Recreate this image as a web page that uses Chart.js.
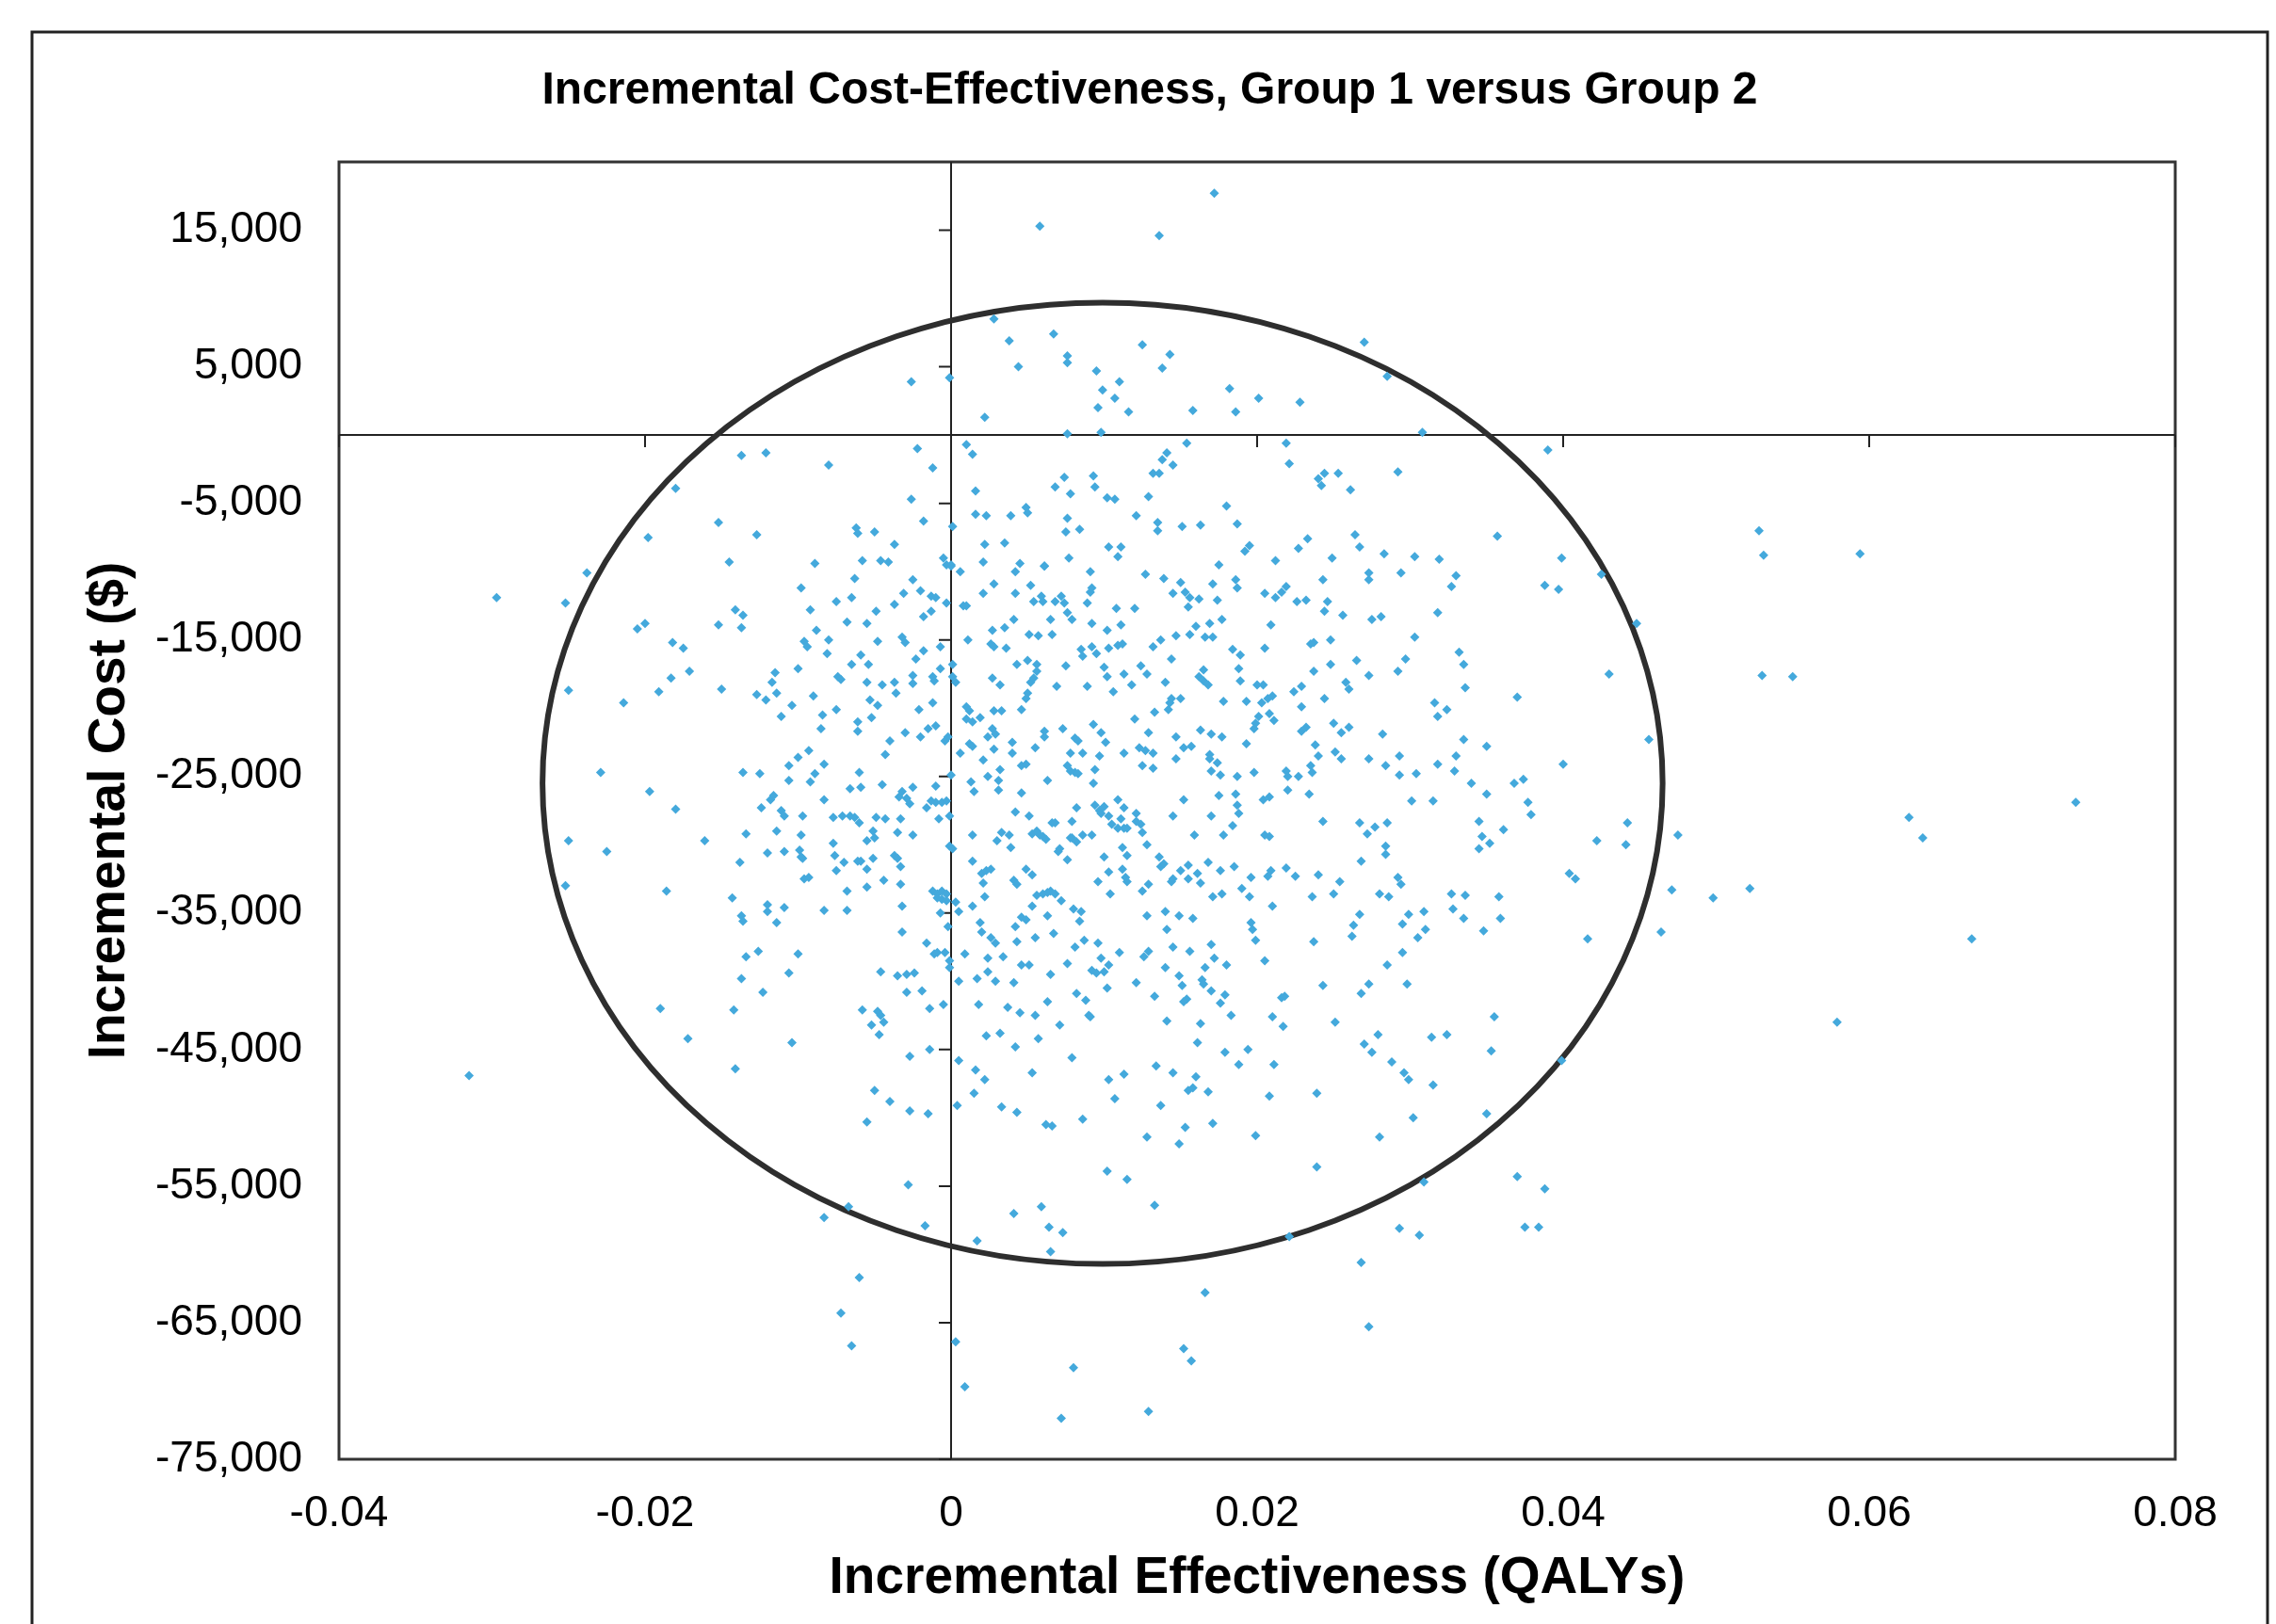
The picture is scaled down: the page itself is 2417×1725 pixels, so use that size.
<!DOCTYPE html>
<html>
<head>
<meta charset="utf-8">
<script src="https://cdn.jsdelivr.net/npm/chart.js@4.4.1/dist/chart.umd.min.js"></script>
<style>
  html, body { margin: 0; padding: 0; background: #fff; }
  canvas { display: block; }
</style>
</head>
<body>
<canvas id="icer" width="2417" height="1725"></canvas>
<script>
// bootstrap replicates [incremental effectiveness (QALYs), incremental cost ($)]
const repsTop = [
  [-0.0137,-1500],[-0.0121,-1300],[-0.0180,-3900],[-0.0152,-6400],[-0.0198,-7500],[-0.0127,-7300],[-0.0145,-9300],[-0.0238,-10100],
  [0.0172,17700],[0.0058,15300],[0.0136,14600],[0.0028,8500],[0.0067,7400],[0.0038,6900],[0.0125,6600],[0.0076,5800],[0.0076,5300],
  [0.0143,5900],[0.0044,5000],[-0.0026,3900],[-0.0001,4200],[0.0095,4700],[0.0138,4900],[0.0110,3900],[0.0099,3300],[0.0107,2700],
  [0.0182,3400],[0.0201,2700],[0.0096,2000],[0.0116,1700],[0.0158,1800],[0.0186,1700],[0.0022,1300],[0.0076,100],[0.0098,200],
  [0.0010,-700],[0.0014,-1400],[-0.0022,-1000],[-0.0080,-2200],[-0.0012,-2400],[0.0154,-600],[0.0141,-1300],[0.0138,-1800],
  [0.0145,-2200],[0.0132,-2800],[0.0136,-2800],[0.0074,-3100],[0.0093,-3000],[0.0094,-3800],[0.0068,-3800],[0.0078,-4300],
  [0.0016,-4100],[-0.0026,-4700],[0.0102,-4600],[0.0107,-4700],[0.0129,-4500],[0.0180,-5200],[0.0049,-5300],[0.0050,-5700],
  [0.0016,-5800],[0.0023,-5900],[0.0039,-5900],[0.0121,-5900],[0.0076,-6100],[-0.0018,-6300],[0.0001,-6700],[0.0135,-6400],
  [0.0135,-7000],[0.0151,-6700],[0.0163,-6600],[0.0187,-6500],[-0.0062,-6800],[-0.0061,-7200],[-0.0050,-7100],[0.0075,-7100],
  [0.0084,-6900],[-0.0037,-8000],[0.0022,-8000],[0.0035,-7900],[0.0103,-8200],[0.0111,-8200],[0.0109,-8900],[0.0195,-8100],
  [0.0192,-8500],[-0.0089,-9400],[-0.0058,-9200],[-0.0046,-9200],[-0.0041,-9300],[-0.0005,-9000],[-0.0003,-9500],[0.0000,-9500],
  [0.0021,-9300],[0.0045,-9400],[0.0061,-9600],[0.0077,-9000],[0.0175,-9500],
  [0.0270,6800],[0.0285,4300],[0.0228,2400],[0.0308,200],[0.0219,-600],[0.0221,-2100],[0.0390,-1100],[0.0240,-3200],[0.0244,-2800],
  [0.0253,-2800],[0.0242,-3700],[0.0261,-4000],[0.0292,-2700],[0.0357,-7400],[0.0399,-9000],[0.0264,-7300],[0.0233,-7600],
  [0.0227,-8300],[0.0267,-8200],[0.0212,-9200],[0.0249,-9000],[0.0283,-8700],[0.0303,-8900],[0.0319,-9100],
  [0.0528,-7000],[0.0531,-8800],[0.0594,-8700]
];

const repsMid = [
  [-0.0297,-11900],[-0.0252,-12300],[-0.0205,-14200],[-0.0200,-13800],[-0.0152,-13900],[-0.0141,-12800],[-0.0136,-13200],
  [-0.0137,-14100],[-0.0182,-15200],[-0.0175,-15600],[-0.0171,-17300],[-0.0183,-17800],[-0.0191,-18800],[-0.0150,-18600],
  [-0.0214,-19600],[-0.0250,-18700],[-0.0115,-17400],[-0.0117,-18100],[-0.0127,-19000],[-0.0121,-19400],[-0.0114,-18900],
  [-0.0104,-19800],[-0.0111,-20600],[-0.0106,-24200],[-0.0106,-25300],[-0.0136,-24700],[-0.0125,-24800],[-0.0229,-24700],
  [-0.0197,-26100],[-0.0180,-27400],[-0.0118,-26700],[-0.0116,-26400],[-0.0124,-27300],[-0.0111,-27500],[-0.0109,-27900],
  [-0.0114,-29000],[-0.0134,-29200],[-0.0161,-29700],[-0.0250,-29700],[-0.0225,-30500],[-0.0120,-30600],[-0.0109,-30500],
  [-0.0138,-31300],[-0.0252,-33000],[-0.0186,-33400],[-0.0143,-33900],[-0.0120,-34400],[-0.0120,-34900],[-0.0109,-34600],
  [-0.0137,-35200],[-0.0136,-35600],[-0.0114,-35700],[-0.0126,-37800],[-0.0134,-38200],[-0.0137,-39800],[-0.0106,-39400],
  [-0.0098,-11200],[-0.0063,-10500],[-0.0025,-10600],[-0.0020,-11400],[-0.0013,-11800],[-0.0010,-11900],[-0.0003,-12300],
  [0.0000,-9600],[0.0006,-10000],[0.0008,-12500],[0.0010,-12500],[-0.0092,-12800],[-0.0075,-12200],[-0.0065,-11900],
  [-0.0049,-12900],[-0.0037,-12400],[-0.0031,-11600],[0.0021,-11600],[0.0028,-10900],[0.0042,-11600],[0.0042,-10000],
  [0.0052,-11000],[0.0061,-9600],[0.0054,-12200],[0.0059,-11800],[0.0060,-12200],[0.0068,-12200],[0.0072,-11800],
  [0.0074,-12300],[0.0091,-10000],[0.0092,-11200],[0.0091,-11500],[0.0089,-12300],[0.0108,-12700],[0.0120,-12700],
  [0.0127,-10200],[0.0139,-10500],[0.0150,-10800],[0.0153,-11500],[0.0156,-11900],[0.0155,-12600],[0.0162,-12000],
  [0.0145,-11600],[0.0171,-10900],[0.0174,-12100],[0.0186,-10600],[0.0187,-11200],
  [-0.0096,-15100],[-0.0094,-15500],[-0.0088,-14300],[-0.0080,-15000],[-0.0081,-16000],[-0.0068,-13700],[-0.0055,-13800],
  [-0.0048,-15100],[-0.0032,-14800],[-0.0030,-15200],[-0.0018,-13300],[-0.0013,-12900],[-0.0007,-15500],[0.0027,-14300],
  [0.0035,-14100],[0.0041,-13500],[0.0011,-15000],[0.0026,-15300],[0.0028,-15500],[0.0036,-15600],[0.0076,-13000],
  [0.0079,-13500],[0.0065,-13500],[0.0051,-14600],[0.0057,-14700],[0.0066,-14600],[0.0092,-13800],[0.0102,-14300],
  [0.0111,-13900],[0.0177,-13500],[0.0169,-13800],[0.0160,-14000],[0.0147,-14700],[0.0156,-14600],[0.0166,-14800],
  [0.0171,-14800],[0.0137,-15000],[0.0132,-15500],[0.0144,-16400],[0.0103,-15600],[0.0109,-15400],[0.0112,-15300],
  [0.0092,-15500],[0.0095,-16000],[0.0085,-15700],[0.0086,-16200],[0.0184,-15700],[0.0189,-16100],
  [-0.0100,-17100],[-0.0065,-16800],[-0.0059,-16100],[-0.0054,-16800],[-0.0074,-17700],[-0.0072,-17900],[-0.0055,-18100],
  [-0.0045,-18300],[-0.0037,-18100],[-0.0036,-18900],[-0.0025,-17600],[-0.0025,-18200],[-0.0023,-16400],[-0.0018,-15800],
  [-0.0012,-17700],[-0.0011,-18000],[-0.0007,-17100],[0.0001,-16800],[0.0001,-17700],[0.0003,-18100],[0.0027,-17800],
  [0.0032,-18300],[0.0043,-16800],[0.0050,-16500],[0.0056,-16800],[0.0056,-17300],[0.0052,-18100],[0.0054,-17800],
  [0.0069,-18400],[0.0075,-16900],[0.0089,-18400],[0.0100,-17000],[0.0102,-17700],[0.0113,-17500],[0.0118,-18300],
  [0.0106,-18800],[0.0124,-16900],[0.0128,-17500],[0.0140,-18100],[0.0162,-17700],[0.0165,-18000],[0.0168,-18300],
  [0.0165,-17200],[0.0189,-18000],[0.0188,-17100],[0.0200,-18300],
  [-0.0090,-19100],[-0.0084,-20500],[-0.0085,-21500],[-0.0075,-20100],[-0.0061,-21000],[-0.0061,-21700],[-0.0053,-19400],
  [-0.0048,-19800],[-0.0052,-20700],[-0.0012,-19600],[-0.0021,-20100],[-0.0030,-21800],[-0.0020,-22100],[-0.0015,-21500],
  [-0.0010,-21300],[0.0010,-19900],[0.0012,-20200],[0.0010,-20800],[0.0014,-21000],[0.0019,-20700],[0.0028,-20200],
  [0.0033,-20200],[0.0046,-20100],[0.0049,-19300],[0.0050,-18900],[0.0120,-20800],[0.0133,-20300],[0.0143,-19600],
  [0.0142,-20100],[0.0150,-19300],[0.0144,-19300],[0.0178,-19500],[0.0193,-19500],[0.0201,-20600],[0.0199,-21100],
  [0.0198,-21500],
  [-0.0100,-23600],[-0.0093,-23100],[-0.0083,-24100],[-0.0043,-23400],[-0.0040,-22400],[-0.0004,-22400],[-0.0002,-22100],
  [0.0006,-23300],[0.0012,-22600],[0.0014,-22800],[0.0021,-23800],[0.0024,-22100],[0.0027,-21500],[0.0029,-21900],
  [0.0032,-24500],[0.0028,-23000],[0.0040,-22500],[0.0040,-23300],[0.0046,-24200],[0.0049,-24100],[0.0055,-22900],
  [0.0061,-21700],[0.0061,-22100],[0.0073,-21500],[0.0078,-23300],[0.0076,-24200],[0.0078,-24600],[0.0081,-24700],
  [0.0083,-24800],[0.0081,-22200],[0.0083,-22400],[0.0086,-23300],[0.0093,-21200],[0.0098,-21800],[0.0097,-23500],
  [0.0101,-22500],[0.0094,-24500],[0.0113,-23300],[0.0123,-22900],[0.0127,-23100],[0.0132,-23300],[0.0125,-24200],
  [0.0132,-24400],[0.0129,-21800],[0.0147,-22100],[0.0147,-23700],[0.0152,-22900],[0.0157,-22800],[0.0163,-21600],
  [0.0170,-21900],[0.0177,-22100],[0.0169,-23400],[0.0169,-23700],[0.0174,-24000],[0.0170,-24600],[0.0176,-24900],
  [0.0193,-22600],[0.0198,-24700],
  [-0.0092,-25400],[-0.0089,-24800],[-0.0083,-26700],[-0.0066,-25900],[-0.0059,-25800],[-0.0060,-24700],[-0.0045,-25600],
  [-0.0034,-26500],[-0.0032,-26100],[-0.0029,-26600],[-0.0027,-27000],[-0.0025,-25800],[-0.0016,-27300],[-0.0013,-26800],
  [-0.0010,-26900],[-0.0006,-26900],[-0.0003,-26800],[-0.0010,-25700],[0.0000,-24900],[-0.0001,-27900],[0.0013,-25400],
  [0.0015,-26100],[0.0024,-25000],[0.0031,-25300],[0.0031,-26000],[0.0046,-26200],[0.0063,-25300],[0.0082,-27300],
  [0.0093,-25500],[0.0094,-27100],[0.0097,-27500],[0.0100,-27200],[0.0098,-27700],[0.0109,-26700],[0.0113,-27300],
  [0.0152,-26700],[0.0175,-26400],[0.0186,-26300],[0.0187,-27100],[0.0188,-27700],[0.0187,-25000],[0.0145,-27900],
  [0.0170,-27900],[0.0103,-27900],[0.0105,-28500],[0.0111,-28100],[0.0113,-28800],[0.0121,-28300],[0.0124,-28500],
  [0.0125,-29100],[0.0121,-27700],
  [-0.0097,-27900],[-0.0098,-29300],[-0.0077,-28000],[-0.0071,-27900],[-0.0066,-27900],[-0.0063,-28000],[-0.0060,-28400],
  [-0.0049,-28000],[-0.0043,-28100],[-0.0033,-28100],[-0.0035,-29100],[-0.0051,-29000],[-0.0055,-29700],[-0.0050,-29500],
  [-0.0025,-29300],[-0.0008,-28100],[-0.0001,-30100],[0.0001,-30300],[0.0014,-29300],[0.0030,-29700],[0.0033,-29100],
  [0.0038,-29300],[0.0039,-30200],[0.0042,-27600],[0.0051,-27900],[0.0053,-29200],[0.0056,-29000],[0.0058,-29300],
  [0.0060,-29400],[0.0062,-29600],[0.0066,-28400],[0.0068,-28400],[0.0071,-30300],[0.0078,-29500],[0.0079,-28300],
  [0.0079,-29500],[0.0082,-29800],[0.0086,-29300],[0.0092,-29300],[0.0100,-30900],[0.0109,-28800],[0.0112,-30200],
  [0.0115,-28800],[0.0128,-30000],[0.0159,-29300],[0.0178,-29300],[0.0184,-28600],
  [-0.0099,-30400],[-0.0098,-30900],[-0.0097,-31000],[-0.0077,-29900],[-0.0076,-30800],[-0.0075,-31900],[-0.0070,-31300],
  [-0.0061,-31200],[-0.0059,-31200],[-0.0055,-31800],[-0.0051,-31000],[-0.0037,-30800],[-0.0035,-31000],[-0.0033,-31600],
  [-0.0096,-32500],[-0.0093,-32400],[-0.0044,-32600],[0.0014,-31200],[0.0020,-32100],[0.0023,-31900],[0.0026,-31800],
  [0.0041,-32600],[0.0043,-32900],[0.0049,-31800],[0.0053,-32200],[0.0070,-30500],[0.0076,-31100],[0.0103,-32000],
  [0.0112,-31800],[0.0115,-30800],[0.0114,-32400],[0.0136,-30900],[0.0137,-31600],[0.0139,-31400],[0.0145,-32500],
  [0.0150,-31900],[0.0155,-31500],[0.0161,-32100],[0.0168,-31300],[0.0176,-31900],[0.0185,-31600],[0.0196,-32400],
  [-0.0068,-33400],[-0.0055,-33100],[-0.0033,-32900],[-0.0012,-33400],[-0.0009,-33600],[-0.0006,-33400],[-0.0003,-33600],
  [-0.0009,-33900],[-0.0006,-34000],[-0.0003,-34100],[0.0003,-34200],[0.0021,-32800],[0.0022,-33800],[0.0056,-33700],
  [0.0060,-33600],[0.0063,-33500],[0.0065,-33400],[0.0068,-33600],[0.0072,-34100],[0.0096,-32700],[0.0104,-33600],
  [0.0115,-32700],[0.0125,-33400],[0.0129,-32900],[0.0144,-32700],[0.0155,-32500],[0.0163,-32800],[0.0171,-33800],
  [0.0177,-33600],[0.0190,-33200],[0.0195,-33800],[-0.0083,-34800],[-0.0068,-34800],[-0.0032,-34500],[-0.0007,-35000],
  [-0.0002,-36000],[0.0005,-34900],[0.0014,-34500],[0.0019,-35700],[0.0042,-36000],[0.0046,-35300],[0.0049,-35500],
  [0.0053,-34500],[0.0063,-35200],[0.0080,-34700],[0.0085,-34900],[0.0084,-35600],[0.0128,-35200],[0.0140,-34900],
  [0.0149,-35200],[0.0158,-35400],[0.0196,-35700],[0.0197,-36200],[0.0199,-37000],
  [-0.0032,-36400],[-0.0016,-37200],[-0.0011,-38000],[-0.0009,-37900],[-0.0004,-37900],[-0.0001,-38500],[-0.0001,-39000],
  [0.0009,-38000],[0.0020,-36400],[0.0024,-38300],[0.0026,-36800],[0.0029,-37200],[0.0034,-38200],[0.0043,-37100],
  [0.0055,-36800],[0.0067,-36500],[0.0081,-37500],[0.0087,-37000],[0.0096,-37200],[0.0110,-37900],[0.0126,-38200],
  [0.0129,-37800],[0.0141,-36200],[0.0145,-37500],[0.0156,-37800],[0.0170,-37300],[0.0172,-38300],[0.0180,-38800],
  [0.0166,-39000],[0.0098,-38300],[0.0103,-38800],[0.0100,-39300],[0.0095,-39400],[0.0092,-39200],[0.0076,-38700],
  [0.0065,-39500],[0.0046,-38800],[0.0051,-38800],[0.0024,-39300],[0.0017,-39800],[0.0029,-40000],[0.0041,-40100],
  [-0.0100,-38000],[-0.0046,-39300],[-0.0035,-39600],[-0.0029,-39500],[-0.0024,-39400],[0.0140,-39000],[0.0149,-39600],
  [0.0164,-39900],[0.0121,-40100],
  [0.0205,-11600],[0.0212,-11900],[0.0216,-11500],[0.0219,-11100],[0.0226,-12200],[0.0232,-12100],[0.0243,-10600],
  [0.0246,-12200],[0.0244,-12900],[0.0273,-10100],[0.0273,-10600],[0.0294,-10100],[0.0330,-10300],[0.0327,-11100],
  [0.0388,-11000],[0.0397,-11300],[0.0425,-10200],[0.0209,-13900],[0.0256,-13200],[0.0275,-13500],[0.0281,-13300],
  [0.0318,-13000],[0.0448,-13800],[0.0205,-15600],[0.0235,-15300],[0.0237,-15200],[0.0248,-15000],[0.0303,-14800],
  [0.0297,-16400],[0.0292,-17300],[0.0332,-15900],[0.0335,-16800],[0.0336,-18500],[0.0430,-17500],[0.0237,-17300],
  [0.0248,-16800],[0.0265,-16500],[0.0273,-17600],[0.0204,-18300],[0.0203,-19600],[0.0207,-19300],[0.0210,-19100],
  [0.0224,-18800],[0.0229,-18400],[0.0244,-19300],[0.0229,-19900],[0.0258,-18100],[0.0260,-18600],[0.0208,-20400],
  [0.0211,-20900],[0.0316,-19600],[0.0324,-20100],[0.0318,-20600],[0.0370,-19200],[0.0229,-21700],[0.0232,-21400],
  [0.0250,-21100],[0.0255,-21800],[0.0260,-21400],[0.0282,-21900],[0.0238,-22700],[0.0240,-23500],[0.0251,-23200],
  [0.0255,-23700],[0.0273,-23700],[0.0293,-23500],[0.0284,-24200],[0.0335,-22300],[0.0350,-22800],[0.0330,-23500],
  [0.0329,-24600],[0.0318,-24100],[0.0456,-22300],[0.0400,-24100],[0.0219,-24600],[0.0220,-25000],[0.0227,-25000],
  [0.0235,-24200],[0.0236,-24700],[0.0220,-26000],[0.0234,-26300],[0.0204,-26700],[0.0208,-26500],[0.0293,-24900],
  [0.0304,-24800],[0.0301,-26800],[0.0315,-26800],[0.0340,-25500],[0.0350,-26300],[0.0368,-25500],[0.0374,-25200],
  [0.0377,-26900],[0.0379,-27800],[0.0243,-28300],[0.0267,-28400],[0.0277,-28700],[0.0272,-29200],[0.0285,-28400],
  [0.0284,-30100],[0.0284,-30700],[0.0205,-29300],[0.0208,-29400],[0.0268,-31200],[0.0345,-28300],[0.0347,-29400],
  [0.0345,-30300],[0.0352,-29900],[0.0361,-28900],[0.0422,-29700],[0.0442,-28400],[0.0441,-30000],[0.0475,-29300],
  [0.0219,-31700],[0.0225,-32300],[0.0207,-32300],[0.0209,-31900],[0.0240,-32200],[0.0254,-32700],[0.0236,-33800],
  [0.0250,-33600],[0.0210,-34500],[0.0280,-33600],[0.0286,-33800],[0.0292,-32400],[0.0294,-32900],[0.0327,-33600],
  [0.0336,-33700],[0.0328,-34700],[0.0335,-35400],[0.0358,-33800],[0.0359,-35400],[0.0348,-36300],[0.0404,-32100],
  [0.0408,-32500],[0.0471,-33300],[0.0464,-36400],[0.0416,-36900],[0.0267,-35100],[0.0263,-35900],[0.0262,-36700],
  [0.0299,-35100],[0.0309,-34900],[0.0295,-35800],[0.0310,-36200],[0.0305,-36800],[0.0237,-37100],[0.0205,-38500],
  [0.0295,-37900],[0.0285,-38800],
  [0.0530,-17600],[0.0550,-17700],[0.0626,-28000],[0.0635,-29500],[0.0735,-26900],[0.0522,-33200],[0.0498,-33900],
  [0.0667,-36900]
];

const repsLow = [
  [-0.0315,-46900],[-0.0190,-42000],[-0.0142,-42100],[-0.0123,-40800],[-0.0172,-44200],[-0.0104,-44500],[-0.0141,-46400],
  [0.0005,-40000],[0.0151,-40300],[0.0165,-40200],[-0.0029,-40800],[-0.0019,-40700],[-0.0005,-41700],[-0.0014,-42000],
  [-0.0058,-42100],[-0.0048,-42200],[-0.0046,-42500],[-0.0044,-43000],[-0.0052,-43200],[-0.0047,-43900],[-0.0014,-45000],
  [-0.0027,-45500],[-0.0050,-48000],[-0.0040,-48800],[-0.0027,-49500],[-0.0015,-49700],[-0.0055,-50300],[0.0018,-41700],
  [0.0037,-41900],[0.0045,-42300],[0.0055,-42500],[0.0063,-41500],[0.0071,-43200],[0.0082,-40900],[0.0088,-41400],
  [0.0090,-42500],[0.0091,-42600],[0.0102,-40500],[0.0133,-41100],[0.0141,-42900],[0.0152,-41500],[0.0154,-41300],
  [0.0163,-43100],[0.0170,-40700],[0.0176,-41600],[0.0179,-41000],[0.0183,-42500],[0.0023,-44000],[0.0032,-43800],
  [0.0042,-44800],[0.0057,-44200],[0.0005,-45800],[0.0016,-46500],[0.0022,-47200],[0.0015,-48200],[0.0004,-49100],
  [0.0053,-46700],[0.0033,-49200],[0.0043,-49600],[0.0062,-50500],[0.0066,-50600],[0.0079,-45600],[0.0086,-50100],
  [0.0103,-47200],[0.0113,-46800],[0.0107,-48600],[0.0134,-46200],[0.0145,-46700],[0.0161,-44500],[0.0179,-45200],
  [0.0194,-45000],[0.0188,-46100],[0.0160,-47000],[0.0155,-48000],[0.0158,-47800],[0.0168,-48100],[0.0137,-49100],
  [0.0153,-50700],[0.0171,-50400],[0.0128,-51400],[0.0149,-51900],[0.0199,-51300],[0.0102,-53900],[0.0115,-54500],
  [0.0133,-56400],[-0.0028,-54900],[-0.0067,-56500],[-0.0083,-57300],[-0.0017,-57900],[0.0017,-59000],[0.0041,-57000],
  [0.0059,-56500],[0.0064,-58000],[0.0073,-58400],[0.0065,-59800],[-0.0060,-61700],[-0.0072,-64300],[-0.0065,-66700],
  [0.0003,-66400],[0.0009,-69700],[0.0080,-68300],[0.0072,-72000],[0.0129,-71500],[0.0152,-66900],[0.0157,-67800],
  [0.0166,-62800],
  [0.0243,-40300],[0.0273,-40200],[0.0298,-40200],[0.0216,-41200],[0.0218,-41100],[0.0268,-40900],[0.0210,-42600],
  [0.0217,-43300],[0.0251,-43000],[0.0355,-42600],[0.0279,-43900],[0.0270,-44600],[0.0275,-45200],[0.0314,-44100],
  [0.0324,-43900],[0.0353,-45100],[0.0211,-46100],[0.0288,-45900],[0.0296,-46700],[0.0299,-47200],[0.0315,-47600],
  [0.0399,-45800],[0.0208,-48400],[0.0239,-48200],[0.0302,-50000],[0.0350,-49700],[0.0280,-51400],[0.0239,-53600],
  [0.0309,-54700],[0.0370,-54300],[0.0388,-55200],[0.0293,-58100],[0.0306,-58600],[0.0375,-58000],[0.0384,-58000],
  [0.0221,-58700],[0.0268,-60600],[0.0273,-65300],
  [0.0579,-43000]
];

// confidence ellipse: centre and half-axes [effect, cost]
const ellipseCentre = [0.0099, -25500];
const ellipseRadii = [0.0366, 35200];

const xTicks = [-0.04, -0.02, 0, 0.02, 0.04, 0.06, 0.08];
const yTicks = [-75000, -65000, -55000, -45000, -35000, -25000, -15000, -5000, 5000, 15000];

const chartTitle = 'Incremental Cost-Effectiveness, Group 1 versus Group 2';
const FONT = '"Liberation Sans", Arial, sans-serif';

const allReps = repsTop.concat(repsMid, repsLow).map(p => ({ x: p[0], y: p[1] }));

// outer frame of the figure, title centred on it
const frame = {
  id: 'frame',
  beforeDraw(chart) {
    const c = chart.ctx;
    c.save();
    c.fillStyle = '#fff';
    c.fillRect(0, 0, chart.width, chart.height);
    c.strokeStyle = '#222';
    c.lineWidth = 3;
    c.strokeRect(34, 34, 2374, 1720);
    c.restore();
  },
  afterDraw(chart) {
    const c = chart.ctx;
    c.save();
    c.fillStyle = '#000';
    c.font = 'bold 48px ' + FONT;
    c.textAlign = 'center';
    c.textBaseline = 'middle';
    c.fillText(chartTitle, 1221, 97);
    c.restore();
  }
};

// plot border, axes crossing at the origin with their tick marks, and the ellipse
const crossAxes = {
  id: 'crossAxes',
  beforeDatasetsDraw(chart) {
    const c = chart.ctx;
    const a = chart.chartArea;
    const xs = chart.scales.x, ys = chart.scales.y;
    const x0 = xs.getPixelForValue(0), y0 = ys.getPixelForValue(0);
    c.save();
    c.strokeStyle = '#333';
    c.lineWidth = 3;
    c.strokeRect(a.left, a.top, a.right - a.left, a.bottom - a.top);

    c.strokeStyle = '#222';
    c.lineWidth = 2;
    c.beginPath();
    c.moveTo(a.left, y0); c.lineTo(a.right, y0);
    c.moveTo(x0, a.top); c.lineTo(x0, a.bottom);
    xTicks.forEach(v => {
      const px = xs.getPixelForValue(v);
      c.moveTo(px, y0); c.lineTo(px, y0 + 13);
    });
    yTicks.forEach(v => {
      const py = ys.getPixelForValue(v);
      c.moveTo(x0 - 13, py); c.lineTo(x0, py);
    });
    c.stroke();

    const cx = xs.getPixelForValue(ellipseCentre[0]);
    const cy = ys.getPixelForValue(ellipseCentre[1]);
    const rx = Math.abs(xs.getPixelForValue(ellipseCentre[0] + ellipseRadii[0]) - cx);
    const ry = Math.abs(ys.getPixelForValue(ellipseCentre[1] + ellipseRadii[1]) - cy);
    c.strokeStyle = '#2e2e2e';
    c.lineWidth = 6;
    c.beginPath();
    c.ellipse(cx, cy, rx, ry, 0, 0, Math.PI * 2);
    c.stroke();
    c.restore();
  }
};

new Chart(document.getElementById('icer'), {
  type: 'scatter',
  data: {
    datasets: [{
      label: 'Replicates',
      data: allReps,
      pointStyle: 'rectRot',
      pointRadius: 5,
      pointBorderWidth: 0,
      backgroundColor: '#44a9dc',
      borderColor: '#44a9dc'
    }]
  },
  options: {
    responsive: false,
    animation: false,
    devicePixelRatio: 1,
    layout: { padding: { left: 0, right: 107, top: 172, bottom: 0 } },
    plugins: {
      legend: { display: false },
      tooltip: { enabled: false },
      title: { display: false }
    },
    scales: {
      x: {
        type: 'linear',
        min: -0.04,
        max: 0.08,
        grid: { display: false, drawTicks: false },
        border: { display: false },
        afterBuildTicks: s => { s.ticks = xTicks.map(v => ({ value: v })); },
        afterFit: s => { s.height = 175; },
        ticks: {
          color: '#000',
          font: { family: FONT, size: 46 },
          padding: 31,
          maxRotation: 0,
          autoSkip: false,
          callback: v => String(v)
        },
        title: {
          display: true,
          text: 'Incremental Effectiveness (QALYs)',
          color: '#000',
          font: { family: FONT, size: 55, weight: 'bold' },
          padding: { top: 0, bottom: 15 }
        }
      },
      y: {
        type: 'linear',
        min: -75000,
        max: 20000,
        grid: { display: false, drawTicks: false },
        border: { display: false },
        afterBuildTicks: s => { s.ticks = yTicks.map(v => ({ value: v })); },
        afterFit: s => { s.width = 360; },
        ticks: {
          color: '#000',
          font: { family: FONT, size: 46 },
          padding: 39,
          autoSkip: false,
          callback: v => v.toLocaleString('en-US')
        },
        title: {
          display: true,
          text: 'Incremental Cost ($)',
          color: '#000',
          font: { family: FONT, size: 55, weight: 'bold' },
          padding: { top: 84, bottom: 0 }
        }
      }
    }
  },
  plugins: [frame, crossAxes]
});
</script>
</body>
</html>
